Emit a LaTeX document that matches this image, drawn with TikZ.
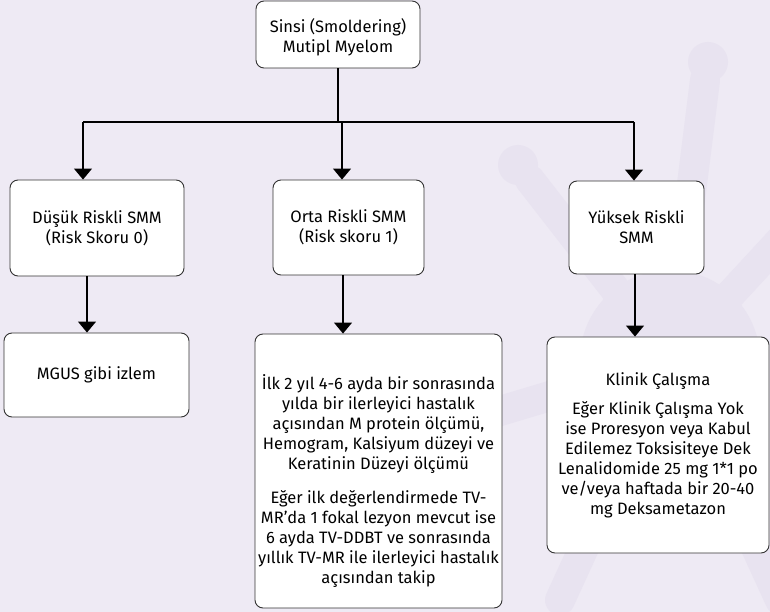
\documentclass[tikz,border=0pt]{standalone}
\usepackage{fontspec}
\setmainfont{Fira Sans}
\usetikzlibrary{arrows.meta}
\definecolor{bgcol}{HTML}{EEEAF4}
\definecolor{wmcol}{HTML}{E8E3F0}
\definecolor{edgecol}{HTML}{333333}
\tikzset{
  frame/.style={draw=edgecol, line width=0.9pt, fill=white, rounded corners=8pt,
              align=center, inner sep=0pt, font=\fontsize{16.5}{20}\selectfont},
  txt/.style={align=center, inner sep=0pt, font=\fontsize{16.5}{20}\selectfont},
  link/.style={line width=1.1pt, black},
  arr/.style={link, -{Triangle[width=18pt,length=11pt]}},
  spike/.style={wmcol, line width=30pt, line cap=round}
}
\begin{document}
\begin{tikzpicture}[x=1pt,y=-1pt]
\fill[bgcol] (0,0) rectangle (770,612);
\useasboundingbox (0,0) rectangle (770,612);

% faint background emblem
\begin{scope}
  \clip (0,0) rectangle (770,612);
  \fill[wmcol] (670,360) circle (90);
  \draw[spike] (670,360) -- (705,80);
  \fill[wmcol] (708,62) circle (20);
  \draw[spike] (670,360) -- (530,180);
  \fill[wmcol] (518,165) circle (20);
  \draw[spike] (670,360) -- (470,420);
  \draw[spike] (670,360) -- (560,600);
  \draw[spike] (670,360) -- (780,600);
  \draw[spike] (670,360) -- (790,230);
\end{scope}

\node[frame, minimum width=164pt, minimum height=67pt] (top) at (338,34.5) {};
\node[txt] (toptxt) at ([yshift=-3pt]top.center)
  {Sinsi (Smoldering)\\Mutipl Myelom};

\node[frame, minimum width=174pt, minimum height=96pt] (low) at (97,228)
  {Düşük Riskli SMM\\(Risk Skoru 0)};
\node[frame, minimum width=151pt, minimum height=95pt] (mid) at (348.5,227.5)
  {Orta Riskli SMM\\(Risk skoru 1)};
\node[frame, minimum width=135pt, minimum height=93pt] (high) at (636.5,227.5)
  {Yüksek Riskli\\SMM};

\node[frame, minimum width=185pt, minimum height=84pt] (mgus) at (96.5,375)
  {MGUS gibi izlem};

\node[frame, minimum width=247pt, minimum height=274pt] (follow) at (378.5,471) {};
\node[txt] (followtxt) at ([yshift=-10pt]follow.center)
  {İlk 2 yıl 4-6 ayda bir sonrasında\\
   yılda bir ilerleyici hastalık\\
   açısından M protein ölçümü,\\
   Hemogram, Kalsiyum düzeyi ve\\
   Keratinin Düzeyi ölçümü\\[14pt]
   Eğer ilk değerlendirmede TV-\\
   MR'da 1 fokal lezyon mevcut ise\\
   6 ayda TV-DDBT ve sonrasında\\
   yıllık TV-MR ile ilerleyici hastalık\\
   açısından takip};

\node[frame, minimum width=222pt, minimum height=216pt] (treat) at (658,445)
  {Klinik Çalışma\\[9pt]
   Eğer Klinik Çalışma Yok\\
   ise Proresyon veya Kabul\\
   Edilemez Toksisiteye Dek\\
   Lenalidomide 25 mg 1*1 po\\
   ve/veya haftada bir 20-40\\
   mg Deksametazon};

% branching from the top box
\coordinate (jl) at (83,122);
\coordinate (jm) at (342,122);
\coordinate (jr) at (634,122);
\draw[link] (top.south) -- (top.south |- jl);
\draw[link] (jl) -- (jr);
\draw[arr] (jl) -- (jl |- low.north);
\draw[arr] (jm) -- (jm |- mid.north);
\draw[arr] (jr) -- (jr |- high.north);

% second level
\coordinate (kl) at (87,0);
\coordinate (km) at (343,0);
\coordinate (kr) at (635,0);
\draw[arr] (kl |- low.south) -- (kl |- mgus.north);
\draw[arr] (km |- mid.south) -- (km |- follow.north);
\draw[arr] (kr |- high.south) -- (kr |- treat.north);
\end{tikzpicture}
\end{document}
